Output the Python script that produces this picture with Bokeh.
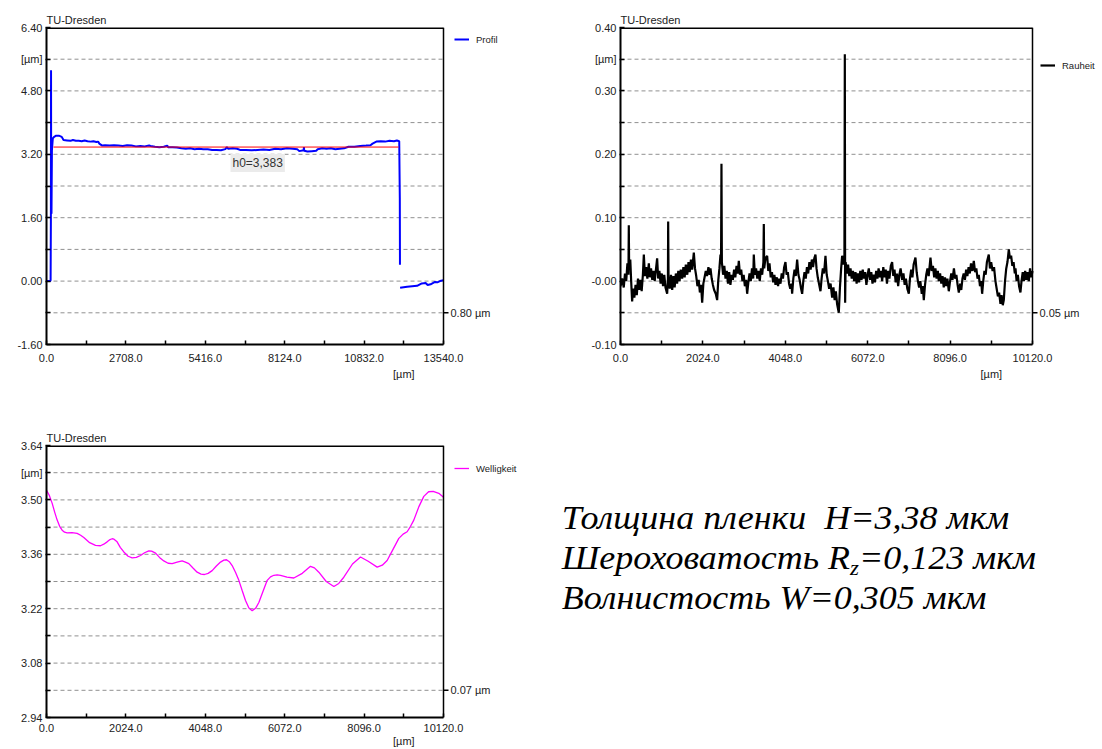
import numpy as np
from bokeh.plotting import figure
from bokeh.models import (Range1d, FixedTicker, LinearAxis, Legend, LegendItem, Label, Div,
                          Title, Span)
from bokeh.layouts import row, column
from bokeh.embed import file_html
from bokeh.resources import INLINE

FONT = "Liberation Sans"

# ---------------- data: Profil ----------------
prof_x = [0, 60, 120, 140, 150, 155, 160, 170, 185, 215, 260, 330, 420, 520, 580, 700, 820, 900,
          1000, 1100, 1200, 1300, 1400, 1500, 1600, 1700, 1760, 1800, 1900, 2000, 2150, 2300, 2450,
          2600, 2750, 2900, 3050, 3200, 3350, 3500, 3550, 3700, 3850, 4000, 4117, 4150, 4300, 4450,
          4600, 4750, 4900, 5050, 5200, 5350, 5500, 5650, 5800, 5950, 6100, 6150, 6200, 6350, 6500,
          6600, 6800, 7000, 7200, 7400, 7600, 7800, 8000, 8200, 8400, 8550, 8620, 8770, 8780, 8790,
          8900, 9050, 9200, 9250, 9400, 9550, 9700, 9850, 10000, 10150, 10300, 10500, 10700, 10900,
          11050, 11120, 11250, 11400, 11550, 11700, 11850, 11950, 12030, 12050, 12055, 12058,
          12060, 12300, 12640, 12800, 12930, 13000, 13100, 13250, 13330, 13420, 13540]
prof_y = [0.00, 0.00, 0.00, 0.02, 1.60, 5.32, 2.10, 1.70, 3.30, 3.60, 3.64, 3.67, 3.67, 3.64, 3.56,
          3.55, 3.54, 3.56, 3.54, 3.54, 3.53, 3.55, 3.53, 3.52, 3.53, 3.51, 3.52, 3.47, 3.42, 3.43,
          3.42, 3.43, 3.42, 3.41, 3.43, 3.42, 3.40, 3.41, 3.40, 3.42, 3.41, 3.39, 3.38, 3.39, 3.42,
          3.38, 3.38, 3.37, 3.35, 3.34, 3.35, 3.33, 3.34, 3.33, 3.33, 3.31, 3.31, 3.30, 3.33, 3.38,
          3.34, 3.35, 3.34, 3.31, 3.31, 3.30, 3.31, 3.32, 3.31, 3.34, 3.33, 3.35, 3.34, 3.33, 3.28,
          3.30, 3.38, 3.29, 3.27, 3.28, 3.29, 3.33, 3.35, 3.34, 3.35, 3.33, 3.34, 3.35, 3.39, 3.39,
          3.41, 3.42, 3.43, 3.47, 3.52, 3.53, 3.52, 3.54, 3.53, 3.55, 3.53, 2.10, 0.41, float("nan"),
          -0.17, -0.14, -0.12, -0.06, -0.05, -0.10, -0.08, -0.02, -0.03, 0.00, 0.02]
h0_value = 3.383
h0_x = [240, 12005]
h0_text = "h0=3,383"

# ---------------- data: Rauheit ----------------
rau = [
    (0, -0.008), (40, 0.004), (80, -0.010), (110, 0.012), (140, 0.000), (170, 0.028), (195, 0.010),
    (204, 0.088), (212, 0.020), (240, 0.034), (262, 0.000), (286, -0.032), (310, -0.012), (340, -0.026),
    (370, -0.006), (400, -0.022), (430, 0.004), (460, -0.014), (490, 0.002), (520, -0.016), (550, 0.010),
    (573, 0.042), (600, 0.008), (630, 0.022), (660, 0.004), (696, 0.028), (720, 0.006), (750, 0.020),
    (780, 0.002), (810, 0.016), (840, 0.000), (870, 0.018), (900, 0.036), (925, 0.004), (955, 0.016),
    (985, -0.004), (1015, 0.012), (1045, -0.008), (1075, 0.010), (1105, -0.010), (1146, -0.020),
    (1165, 0.004), (1171, 0.094), (1180, 0.006), (1210, -0.012), (1240, 0.010), (1270, -0.014),
    (1300, 0.008), (1330, -0.010), (1360, 0.012), (1390, -0.004), (1420, 0.016), (1450, 0.000),
    (1480, 0.018), (1514, 0.004), (1545, 0.022), (1575, 0.006), (1605, 0.026), (1640, 0.010),
    (1670, 0.030), (1700, 0.014), (1730, 0.034), (1760, 0.018), (1801, 0.045), (1830, 0.020),
    (1860, 0.008), (1890, -0.008), (1920, 0.002), (1950, -0.018), (1980, -0.006), (2006, -0.034),
    (2035, -0.004), (2065, 0.006), (2095, 0.016), (2125, 0.008), (2160, 0.022), (2190, 0.010),
    (2210, 0.020), (2240, 0.004), (2270, -0.006), (2300, -0.014), (2340, -0.020), (2374, -0.030),
    (2400, 0.000), (2430, 0.020), (2456, 0.042), (2470, 0.030), (2480, 0.185), (2490, 0.030),
    (2520, 0.010), (2550, 0.024), (2580, 0.004), (2610, 0.016), (2640, -0.004), (2670, 0.014),
    (2700, -0.006), (2730, 0.010), (2760, 0.002), (2790, 0.018), (2820, 0.006), (2850, 0.024),
    (2880, 0.012), (2906, 0.032), (2935, 0.010), (2965, 0.018), (2995, 0.000), (3025, 0.010),
    (3055, -0.008), (3085, 0.002), (3111, -0.020), (3140, -0.002), (3170, 0.012), (3200, 0.000),
    (3230, 0.020), (3260, 0.004), (3274, 0.042), (3300, 0.010), (3330, 0.020), (3360, 0.004),
    (3390, 0.016), (3420, 0.000), (3450, 0.020), (3480, 0.010), (3510, 0.030), (3520, 0.090),
    (3530, 0.020), (3560, 0.036), (3602, 0.040), (3630, 0.016), (3660, 0.028), (3690, 0.006),
    (3720, 0.014), (3750, -0.002), (3780, 0.010), (3807, -0.006), (3840, 0.006), (3870, -0.008),
    (3900, 0.004), (3930, -0.004), (3960, 0.012), (3990, 0.004), (4020, 0.022), (4052, 0.030),
    (4080, 0.010), (4110, 0.014), (4140, -0.004), (4170, -0.012), (4200, -0.004), (4216, -0.020),
    (4245, 0.004), (4275, 0.018), (4305, 0.008), (4339, 0.034), (4370, 0.010), (4400, 0.002),
    (4430, -0.010), (4462, -0.020), (4490, 0.000), (4520, 0.014), (4550, 0.004), (4580, 0.022),
    (4610, 0.012), (4640, 0.030), (4670, 0.018), (4700, 0.034), (4730, 0.022), (4760, 0.036),
    (4789, 0.042), (4815, 0.020), (4845, 0.006), (4875, -0.004), (4912, -0.016), (4940, 0.004),
    (4970, 0.020), (5000, 0.012), (5035, 0.040), (5065, 0.010), (5095, 0.000), (5125, -0.012),
    (5160, -0.004), (5199, -0.026), (5230, -0.010), (5260, -0.030), (5290, -0.016), (5320, -0.036),
    (5362, -0.050), (5390, -0.010), (5420, 0.020), (5444, 0.040), (5470, 0.026), (5500, 0.036),
    (5510, 0.358), (5518, -0.034), (5530, 0.030), (5560, 0.012), (5590, 0.026), (5620, 0.008),
    (5650, 0.020), (5680, 0.004), (5710, 0.016), (5740, 0.000), (5772, 0.014), (5800, -0.004),
    (5830, 0.012), (5860, -0.002), (5890, 0.016), (5920, 0.002), (5950, 0.018), (5980, 0.004),
    (6010, 0.014), (6040, -0.006), (6070, 0.010), (6099, 0.020), (6130, 0.002), (6160, 0.014),
    (6190, -0.004), (6220, 0.010), (6250, -0.002), (6280, 0.016), (6310, 0.004), (6340, 0.020),
    (6370, 0.006), (6400, 0.016), (6427, 0.000), (6455, 0.022), (6485, 0.006), (6515, 0.018),
    (6545, -0.004), (6575, 0.016), (6605, 0.004), (6640, 0.024), (6672, 0.030), (6700, 0.008),
    (6730, 0.018), (6760, -0.002), (6790, 0.012), (6820, -0.008), (6850, 0.010), (6880, 0.020),
    (6918, 0.002), (6950, 0.012), (6980, -0.006), (7010, 0.004), (7045, -0.012), (7082, -0.020),
    (7110, 0.004), (7140, 0.018), (7170, 0.006), (7200, 0.026), (7245, 0.037), (7275, 0.014),
    (7305, 0.000), (7335, -0.010), (7365, 0.000), (7400, -0.020), (7425, -0.008), (7450, -0.030),
    (7480, -0.006), (7510, 0.010), (7540, 0.020), (7570, 0.008), (7614, 0.037), (7645, 0.016),
    (7675, 0.024), (7705, 0.006), (7735, 0.020), (7765, 0.004), (7795, 0.016), (7818, 0.000),
    (7850, 0.012), (7880, -0.004), (7910, 0.008), (7940, -0.010), (7970, 0.006), (8000, -0.008),
    (8030, 0.004), (8064, -0.016), (8095, 0.000), (8125, 0.012), (8155, 0.002), (8190, 0.020),
    (8220, 0.004), (8250, 0.010), (8280, -0.006), (8310, -0.018), (8340, -0.004), (8370, -0.014),
    (8400, 0.004), (8430, 0.012), (8460, 0.002), (8490, 0.018), (8520, 0.008), (8550, 0.022),
    (8580, 0.012), (8610, 0.028), (8645, 0.016), (8678, 0.032), (8710, 0.014), (8740, 0.020),
    (8770, 0.004), (8800, 0.010), (8830, -0.008), (8860, 0.000), (8883, -0.020), (8910, 0.000),
    (8940, 0.016), (8970, 0.010), (9000, 0.030), (9046, 0.042), (9075, 0.020), (9105, 0.030),
    (9140, 0.016), (9175, 0.022), (9210, 0.000), (9240, -0.012), (9270, -0.024), (9300, -0.018),
    (9333, -0.036), (9360, -0.022), (9390, -0.038), (9415, -0.030), (9445, 0.000), (9475, 0.020),
    (9505, 0.030), (9538, 0.050), (9565, 0.036), (9595, 0.040), (9625, 0.024), (9655, 0.030),
    (9685, 0.012), (9702, 0.020), (9730, 0.000), (9760, 0.010), (9790, -0.008), (9824, -0.018),
    (9850, 0.000), (9880, 0.014), (9910, 0.000), (9940, 0.016), (9970, 0.002), (10000, 0.014),
    (10029, 0.000), (10060, 0.020), (10090, 0.006), (10120, 0.016)]
rau_x = [a for a, b in rau]
rau_y = [b for a, b in rau]

# ---------------- data: Welligkeit ----------------
wel_x = [0, 70, 145, 210, 272, 335, 399, 460, 527, 650, 781, 870, 951, 1100, 1249, 1376, 1460,
         1546, 1620, 1673, 1720, 1800, 1880, 1971, 2080, 2183, 2290, 2396, 2500, 2608, 2680, 2780,
         2880, 2990, 3100, 3203, 3330, 3458, 3540, 3628, 3740, 3840, 3940, 4027, 4120, 4223, 4330,
         4436, 4520, 4589, 4660, 4733, 4820, 4903, 4990, 5073, 5160, 5243, 5330, 5413, 5520, 5626,
         5710, 5796, 5880, 5966, 6130, 6305, 6520, 6729, 6830, 6942, 7130, 7325, 7450, 7579, 7800,
         8004, 8200, 8429, 8560, 8683, 8830, 8981, 9090, 9193, 9280, 9363, 9490, 9618, 9740, 9857,
         10000, 10120]
wel_y = [3.525, 3.512, 3.491, 3.468, 3.448, 3.432, 3.422, 3.417, 3.415, 3.416, 3.414, 3.409, 3.403,
         3.390, 3.383, 3.382, 3.386, 3.392, 3.398, 3.400, 3.399, 3.392, 3.378, 3.366, 3.355, 3.351,
         3.352, 3.357, 3.364, 3.369, 3.368, 3.363, 3.352, 3.343, 3.337, 3.336, 3.340, 3.343, 3.340,
         3.336, 3.324, 3.314, 3.309, 3.308, 3.311, 3.318, 3.330, 3.340, 3.345, 3.346, 3.341, 3.331,
         3.313, 3.293, 3.266, 3.241, 3.222, 3.215, 3.221, 3.236, 3.265, 3.293, 3.302, 3.306, 3.307,
         3.306, 3.301, 3.299, 3.311, 3.329, 3.325, 3.314, 3.290, 3.277, 3.285, 3.301, 3.335, 3.353,
         3.342, 3.327, 3.332, 3.344, 3.372, 3.401, 3.412, 3.418, 3.432, 3.448, 3.482, 3.509, 3.521,
         3.522, 3.517, 3.507]

# ---------------- axes: ticks and labels ----------------
x1_max = 13540.0
x1_ticks = [0.0, 2708.0, 5416.0, 8124.0, 10832.0, 13540.0]
x1_labels = ["0.0", "2708.0", "5416.0", "8124.0", "10832.0", "13540.0"]
x1_minor = [1354.0, 4062.0, 6770.0, 9478.0, 12186.0]
y1_range = (-1.6, 6.4)
y1_ticks = [-1.6, 0.0, 1.6, 3.2, 4.8, 5.6, 6.4]
y1_labels = ["-1.60", "0.00", "1.60", "3.20", "4.80", "[µm]", "6.40"]
y1_grid = [-0.8, 0.0, 0.8, 1.6, 2.4, 3.2, 4.0, 4.8, 5.6]
y1_minor = [-0.8, 0.8, 2.4, 4.0]
y1_right = -0.8
y1_right_label = "0.80 µm"
x1_unit_pos = 12186.0

x2_max = 10120.0
x2_ticks = [0.0, 2024.0, 4048.0, 6072.0, 8096.0, 10120.0]
x2_labels = ["0.0", "2024.0", "4048.0", "6072.0", "8096.0", "10120.0"]
x2_minor = [1012.0, 3036.0, 5060.0, 7084.0, 9108.0]
y2_range = (-0.1, 0.4)
y2_ticks = [-0.1, 0.0, 0.1, 0.2, 0.3, 0.35, 0.4]
y2_labels = ["-0.10", "-0.00", "0.10", "0.20", "0.30", "[µm]", "0.40"]
y2_grid = [-0.05, 0.0, 0.05, 0.1, 0.15, 0.2, 0.25, 0.3, 0.35]
y2_minor = [-0.05, 0.05, 0.15, 0.25]
y2_right = -0.05
y2_right_label = "0.05 µm"
x2_unit_pos = 9108.0

y3_range = (2.94, 3.64)
y3_ticks = [2.94, 3.08, 3.22, 3.36, 3.50, 3.57, 3.64]
y3_labels = ["2.94", "3.08", "3.22", "3.36", "3.50", "[µm]", "3.64"]
y3_grid = [3.01, 3.08, 3.15, 3.22, 3.29, 3.36, 3.43, 3.50, 3.57]
y3_minor = [3.01, 3.15, 3.29, 3.43]
y3_right = 3.01
y3_right_label = "0.07 µm"

info_lines = ["Толщина пленки&nbsp; H=3,38 мкм",
              "Шероховатость R<span style='font-size:21px;vertical-align:-6px;line-height:0'>z</span>=0,123 мкм",
              "Волнистость W=0,305 мкм"]


def style_axis(ax):
    ax.axis_line_color = "black"
    ax.major_tick_line_color = "black"
    ax.minor_tick_line_color = "black"
    ax.major_tick_line_width = 1.5
    ax.minor_tick_line_width = 1.5
    ax.major_label_text_font = FONT
    ax.major_label_text_font_size = "11px"
    ax.major_label_text_color = "#222222"


def make_chart(canvas_w, canvas_h, left, top, box_w, box_h, xmax, yr,
               xt, xl, xm, yt, yl, ym, yg, rt, rl, x_standoff, unit_pos, unit_standoff):
    frame_w = canvas_w - left
    x_end = xmax * frame_w / box_w          # frame extends right of the plot box (legend area)
    px = xmax / box_w                       # data units per pixel
    bottom = canvas_h - top - box_h
    p = figure(width=canvas_w, height=canvas_h, x_range=Range1d(0, x_end), y_range=Range1d(*yr),
               output_backend="svg", toolbar_location=None, title=None,
               min_border_left=left, min_border_right=0,
               min_border_top=top, min_border_bottom=bottom)
    p.add_layout(Title(text="TU-Dresden", align="left", text_font=FONT, text_font_size="11px",
                       text_font_style="normal", text_color="#222222", standoff=3, offset=0),
                 "above")
    p.outline_line_color = None
    p.xgrid.visible = False
    p.ygrid.visible = False

    # dashed grid inside the plot box
    n = len(yg)
    p.segment(x0=[0] * n, y0=yg, x1=[xmax] * n, y1=yg, line_color="#909090",
              line_dash="4 3", line_width=1)
    # box: top edge and right edge
    p.segment(x0=[0], y0=[yr[1]], x1=[xmax], y1=[yr[1]], line_color="black", line_width=3)
    p.add_layout(Span(location=xmax, dimension="height", line_color="black", line_width=1.5))
    # right-hand marker tick and label
    p.segment(x0=[xmax], y0=[rt], x1=[xmax + 5 * px], y1=[rt], line_color="black", line_width=1.5)
    p.add_layout(Label(x=xmax, y=rt, x_offset=7, text=rl, text_align="left",
                       text_baseline="middle", text_font=FONT, text_font_size="11px",
                       text_color="#222222"))

    xa = p.xaxis[0]
    xa.bounds = (0, xmax)
    xa.ticker = FixedTicker(ticks=xt, minor_ticks=xm)
    xa.major_label_overrides = dict(zip(xt, xl))
    ya = p.yaxis[0]
    ya.ticker = FixedTicker(ticks=yt, minor_ticks=ym)
    ya.major_label_overrides = dict(zip(yt, yl))
    for ax in (xa, ya):
        style_axis(ax)
        ax.axis_line_width = 2
    xa.major_tick_in = 4
    xa.major_tick_out = 0
    xa.minor_tick_in = 4
    xa.minor_tick_out = 0
    xa.major_label_standoff = x_standoff
    ya.major_tick_in = 4
    ya.major_tick_out = 1
    ya.minor_tick_in = 4
    ya.minor_tick_out = 1
    ya.major_label_standoff = 3

    ua = LinearAxis(ticker=FixedTicker(ticks=[unit_pos], minor_ticks=[]),
                    major_label_overrides={unit_pos: "[µm]"})
    style_axis(ua)
    ua.axis_line_color = None
    ua.major_tick_line_color = None
    ua.major_tick_in = 0
    ua.major_tick_out = 0
    ua.major_label_standoff = unit_standoff
    p.add_layout(ua, "below")
    return p


def add_legend(p, r, label, loc):
    leg = Legend(items=[LegendItem(label=label, renderers=[r])], location=loc)
    leg.border_line_color = None
    leg.background_fill_alpha = 0
    leg.label_text_font = FONT
    leg.label_text_font_size = "9.5px"
    leg.label_text_color = "#222222"
    leg.glyph_width = 15
    leg.glyph_height = 12
    leg.label_height = 12
    leg.label_standoff = 7
    leg.padding = 0
    leg.margin = 0
    leg.spacing = 0
    p.add_layout(leg)


# ---- chart 1: Profil ----
p1 = make_chart(548, 400, 46, 27, 397, 318, x1_max, y1_range,
                x1_ticks, x1_labels, x1_minor, y1_ticks, y1_labels, y1_minor, y1_grid,
                y1_right, y1_right_label, 9, x1_unit_pos, 3)
r1 = p1.line(prof_x, np.array(prof_y, dtype=float), line_color="#0000ff", line_width=2)
p1.line(h0_x, [h0_value, h0_value], line_color="#ff0000", line_width=1)
p1.add_layout(Label(x=6275, y=h0_value, y_offset=-7, text=h0_text, text_align="left",
                    text_baseline="top", text_font=FONT, text_font_size="12px",
                    text_color="#333333", background_fill_color="#ebebeb", padding=2))
add_legend(p1, r1, "Profil", (408, 299))

# ---- chart 2: Rauheit ----
p2 = make_chart(554, 400, 72, 27, 412, 317, x2_max, y2_range,
                x2_ticks, x2_labels, x2_minor, y2_ticks, y2_labels, y2_minor, y2_grid,
                y2_right, y2_right_label, 9, x2_unit_pos, 3)
r2 = p2.line(rau_x, rau_y, line_color="black", line_width=2.2)
add_legend(p2, r2, "Rauheit", (420, 273))

# ---- chart 3: Welligkeit ----
p3 = make_chart(548, 349, 46, 45, 397, 272, x2_max, y3_range,
                x2_ticks, x2_labels, x2_minor, y3_ticks, y3_labels, y3_minor, y3_grid,
                y3_right, y3_right_label, 6, x2_unit_pos, 0)
r3 = p3.line(wel_x, wel_y, line_color="#ff00ff", line_width=1.3)
add_legend(p3, r3, "Welligkeit", (408, 243))

html = ("<div style=\"font-family:'Liberation Serif',serif;font-style:italic;font-size:33px;"
        "line-height:40px;color:#000;padding-left:8px;padding-top:93px;white-space:nowrap;"
        "transform:scaleX(1.09);transform-origin:0 0\">"
        + "<br>".join(info_lines) + "</div>")
info = Div(text=html, width=554, height=349)

layout = column(row(p1, p2), row(p3, info))
open("out.html", "w").write(file_html(layout, INLINE))
